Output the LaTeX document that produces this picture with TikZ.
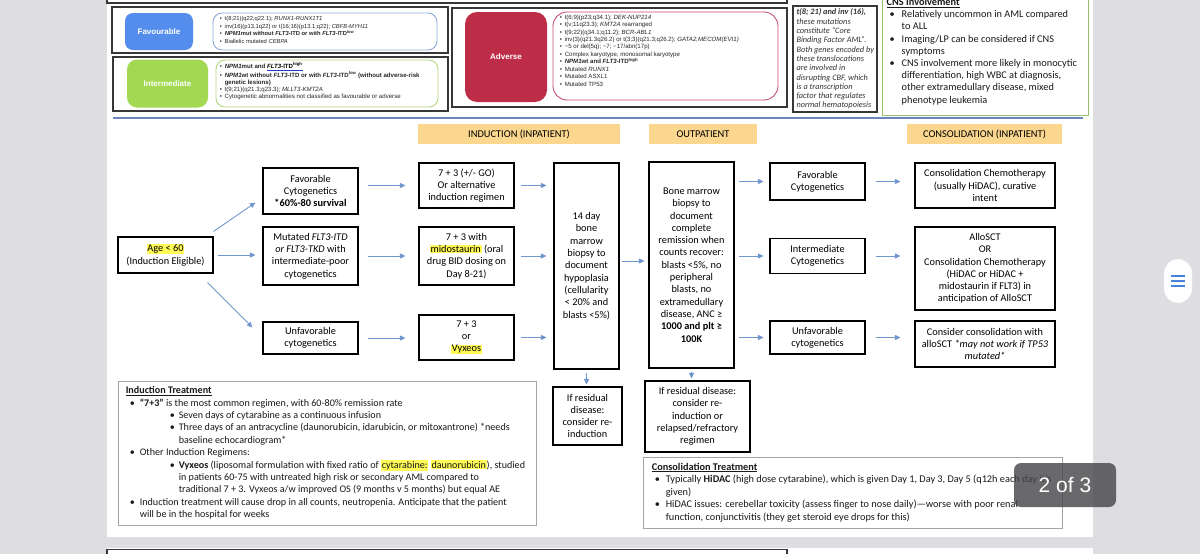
\documentclass[tikz,border=0pt]{standalone}
\usepackage{fontspec}
\setmainfont{Carlito}
\newfontfamily\arialfont{Liberation Sans}
\usetikzlibrary{arrows.meta,positioning}

\definecolor{pagegray}{RGB}{221,221,226}
\definecolor{favblue}{RGB}{84,141,235}
\definecolor{intgreen}{RGB}{163,217,82}
\definecolor{advred}{RGB}{190,45,72}
\definecolor{favedge}{RGB}{140,170,220}
\definecolor{intedge}{RGB}{180,215,125}
\definecolor{advedge}{RGB}{196,80,110}
\definecolor{hdrorange}{RGB}{250,214,142}
\definecolor{arrowblue}{RGB}{112,150,205}
\definecolor{hlyellow}{RGB}{255,250,85}
\definecolor{cnsgreen}{RGB}{150,195,105}
\definecolor{ruleblue}{RGB}{105,135,190}
\definecolor{infogray}{RGB}{165,165,165}
\definecolor{outerline}{RGB}{55,55,55}
\definecolor{linkblue}{RGB}{30,60,200}
\definecolor{badgegray}{RGB}{72,72,76}
\definecolor{menublue}{RGB}{70,130,220}

\newcommand{\hlt}[1]{{\setlength{\fboxsep}{0.8pt}\colorbox{hlyellow}{#1}}}
\newcommand{\riskbul}{\makebox[5pt][l]{\textbullet}}
\newcommand{\bluline}[1]{{\color{linkblue}\underline{\color{black}#1}}}
\newcommand{\bulone}{\hspace*{4pt}\makebox[10pt][l]{\textbullet}}
\newcommand{\bultwo}{\hspace*{44pt}\makebox[9pt][l]{\textbullet}}
\newcommand{\bulcons}{\hspace*{3pt}\makebox[11pt][l]{\textbullet}}
\newcommand{\cnsbul}{\hspace*{3pt}\makebox[12pt][l]{\textbullet}}

\begin{document}
\begin{tikzpicture}[x=1pt, y=-1pt,
  flowbox/.style={rectangle, draw=black, line width=1.1pt, inner sep=2pt,
                  align=center, font=\fontsize{10.3}{12.3}\selectfont},
  hdrbox/.style={rectangle, fill=hdrorange, minimum height=20pt, inner sep=0pt,
                 font=\fontsize{10.4}{11}\selectfont},
  farr/.style={-{Triangle[length=5.5pt,width=5pt]}, line width=0.9pt, draw=arrowblue},
  outerbox/.style={rectangle, draw=outerline, line width=1.6pt, inner sep=0pt},
  risklab/.style={rectangle, rounded corners=8pt, inner sep=0pt, text=white,
                  font=\arialfont\bfseries\fontsize{8}{9}\selectfont},
  risktxt/.style={rectangle, rounded corners=9pt, fill=white, line width=0.9pt, inner sep=0pt},
  risklist/.style={inner sep=0pt, align=left, text=black!85,
                   font=\arialfont\fontsize{5.8}{7.35}\selectfont},
  infobox/.style={rectangle, draw=infogray, line width=0.8pt, inner sep=0pt},
  infotext/.style={inner sep=0pt, align=left, text=black!90}
]
\useasboundingbox (0,0) rectangle (1200,554);
\clip (0,0) rectangle (1200,554);

% Screen and pages
\fill[pagegray] (0,0) rectangle (1200,554);
\fill[white] (107,-5) rectangle (1093,537);
\fill[white] (107,548) rectangle (1093,560);
\draw[outerline, line width=1.6pt] (107,-10) rectangle (787,3);
\draw[outerline, line width=1.1pt] (107,549.5) rectangle (787,570);

% Risk groups
\node[outerbox, minimum width=336pt, minimum height=46pt] (favout) at (280,30) {};
\node[risklab, fill=favblue, minimum width=68pt, minimum height=37pt] (favlab) at (159,31.5) {Favourable};
\node[risktxt, draw=favedge, minimum width=224pt, minimum height=37pt] (favtxt) at (325,31.5) {};
\node[risklist, anchor=north west] (favlist) at ([shift={(7,4)}]favtxt.north west)
  {\riskbul t(8;21)(q22;q22.1); \textit{RUNX1-RUNX1T1}\\
   \riskbul inv(16)(p13.1q22) or t(16;16)(p13.1;q22); \textit{CBFB-MYH11}\\
   \riskbul \textbf{\textit{NPM1}mut without \textit{FLT3}-ITD or with \textit{FLT3}-ITD\textsuperscript{low}}\\
   \riskbul Biallelic mutated \textit{CEBPA}};

\node[outerbox, minimum width=335pt, minimum height=54pt] (intout) at (280.5,84) {};
\node[risklab, rounded corners=10pt, fill=intgreen, minimum width=81pt, minimum height=48pt] (intlab) at (167.5,83.5) {Intermediate};
\node[risktxt, draw=intedge, minimum width=222pt, minimum height=47pt] (inttxt) at (327,83.5) {};
\node[risklist, anchor=north west, font=\arialfont\fontsize{6.1}{7.1}\selectfont] (intlist) at ([shift={(4,3)}]inttxt.north west)
  {\riskbul \textbf{\textit{NPM1}mut and \bluline{\textit{FLT3}-ITD\textsuperscript{high}}}\\
   \riskbul \textbf{\textit{NPM1}wt without \textit{FLT3}-ITD or with \textit{FLT3}-ITD\textsuperscript{low} (without adverse-risk}\\
   \hspace*{5pt}\textbf{genetic lesions)}\\
   \riskbul t(9;21)(q21.3;q23.3); \textit{MLLT3-KMT2A}\\
   \riskbul Cytogenetic abnormalities not classified as favourable or adverse};

\node[outerbox, minimum width=335pt, minimum height=99pt] (advout) at (619.5,57.5) {};
\node[risklab, rounded corners=12pt, fill=advred, minimum width=82pt, minimum height=90pt] (advlab) at (506,57) {Adverse};
\node[risktxt, rounded corners=14pt, draw=advedge, minimum width=225pt, minimum height=88pt] (advtxt) at (665.5,56) {};
\node[risklist, anchor=north west, font=\arialfont\fontsize{6.1}{7.45}\selectfont] (advlist) at ([shift={(7,3)}]advtxt.north west)
  {\riskbul t(6;9)(p23;q34.1); \textit{DEK-NUP214}\\
   \riskbul t(v;11q23.3); \textit{KMT2A} rearranged\\
   \riskbul t(9;22)(q34.1;q11.2); \textit{BCR-ABL1}\\
   \riskbul inv(3)(q21.3q26.2) or t(3;3)(q21.3;q26.2); \textit{GATA2,MECOM(EVI1)}\\
   \riskbul −5 or del(5q); −7; −17/abn(17p)\\
   \riskbul Complex karyotype, monosomal karyotype\\
   \riskbul \textbf{\textit{NPM1}wt and \textit{FLT3}-ITD\textsuperscript{high}}\\
   \riskbul Mutated \textit{RUNX1}\\
   \riskbul Mutated ASXL1\\
   \riskbul Mutated TP53};

% CBF note
\node[outerbox, line width=1.4pt, minimum width=84pt, minimum height=106pt] (cbfbox) at (835,59) {};
\node[infotext, anchor=west, text=black!80, font=\itshape\fontsize{8.3}{9.3}\selectfont] (cbftext) at ([xshift=4pt]cbfbox.west)
  {\textbf{t(8; 21) and inv (16),}\\
   these mutations\\
   constitute “Core\\
   Binding Factor AML”.\\
   Both genes encoded by\\
   these translocations\\
   are involved in\\
   disrupting CBF, which\\
   is a transcription\\
   factor that regulates\\
   normal hematopoiesis};

% CNS involvement
\node[infobox, draw=cnsgreen, line width=1pt, minimum width=206pt, minimum height=127pt] (cnsbox) at (985,51.5) {};
\node[infotext, anchor=west, font=\fontsize{10.3}{12.2}\selectfont] (cnstext) at ([xshift=5pt]cnsbox.west)
  {\textbf{\underline{CNS Involvement}}\\
   \cnsbul Relatively uncommon in AML compared\\
   \hspace*{15pt}to ALL\\
   \cnsbul Imaging/LP can be considered if CNS\\
   \hspace*{15pt}symptoms\\
   \cnsbul CNS involvement more likely in monocytic\\
   \hspace*{15pt}differentiation, high WBC at diagnosis,\\
   \hspace*{15pt}other extramedullary disease, mixed\\
   \hspace*{15pt}phenotype leukemia};

\draw[ruleblue, line width=2pt] (113,118) -- (1083,118);

% Phase headers
\node[hdrbox, minimum width=202pt] (hind)  at (519,134)   {INDUCTION (INPATIENT)};
\node[hdrbox, minimum width=108pt] (hout)  at (703,134)   {OUTPATIENT};
\node[hdrbox, minimum width=155pt] (hcons) at (984.5,134) {CONSOLIDATION (INPATIENT)};

% Flow boxes
\node[flowbox, minimum width=95pt, minimum height=36pt] (age) at (165.5,255) {\hlt{Age < 60}\\(Induction Eligible)};
\node[flowbox, minimum width=95pt, minimum height=46pt] (fav) at (310.5,191) {Favorable\\Cytogenetics\\\textbf{*60\%-80 survival}};
\node[flowbox, minimum width=95pt, minimum height=58pt] (mut) at (310.5,256) {Mutated \textit{FLT3-ITD}\\\textit{or FLT3-TKD} with\\intermediate-poor\\cytogenetics};
\node[flowbox, minimum width=95pt, minimum height=32pt] (unf) at (310.5,338) {Unfavorable\\cytogenetics};
\node[flowbox, minimum width=95pt, minimum height=45pt] (sgo) at (466.5,185.5) {7 + 3 (+/- GO)\\Or alternative\\induction regimen};
\node[flowbox, minimum width=95pt, minimum height=58pt] (smido) at (466.5,256) {7 + 3 with\\\hlt{midostaurin} (oral\\drug BID dosing on\\Day 8-21)};
\node[flowbox, minimum width=95pt, minimum height=45pt] (svyx) at (466.5,337.5) {7 + 3\\or\\\hlt{Vyxeos}};
\node[flowbox, minimum width=65pt, minimum height=206pt] (bm14) at (586.5,266)
  {14 day\\bone\\marrow\\biopsy to\\document\\hypoplasia\\(cellularity\\< 20\% and\\blasts <5\%)};
\node[flowbox, minimum width=85pt, minimum height=206pt] (bmcr) at (691.5,265)
  {Bone marrow\\biopsy to\\document\\complete\\remission when\\counts recover:\\blasts <5\%, no\\peripheral\\blasts, no\\extramedullary\\disease, ANC ≥\\\textbf{1000 and plt ≥}\\\textbf{100K}};
\node[flowbox, minimum width=95pt, minimum height=37pt] (rfav) at (817.5,181.5) {Favorable\\Cytogenetics};
\node[flowbox, minimum width=95pt, minimum height=35pt] (rint) at (817.5,256) {Intermediate\\Cytogenetics};
\node[flowbox, minimum width=95pt, minimum height=33pt] (runf) at (817.5,337.5) {Unfavorable\\cytogenetics};
\node[flowbox, minimum width=140pt, minimum height=45pt] (cchemo) at (985,185.5) {Consolidation Chemotherapy\\(usually HiDAC), curative\\intent};
\node[flowbox, minimum width=140pt, minimum height=83pt] (callo) at (985,268.5)
  {AlloSCT\\OR\\Consolidation Chemotherapy\\(HiDAC or HiDAC +\\midostaurin if FLT3) in\\anticipation of AlloSCT};
\node[flowbox, minimum width=140pt, minimum height=46pt] (ccons) at (985,344) {Consider consolidation with\\alloSCT \textit{*may not work if TP53}\\\textit{mutated*}};
\node[flowbox, minimum width=69pt, minimum height=58pt] (res14) at (587.5,416) {If residual\\disease:\\consider re-\\induction};
\node[flowbox, minimum width=105pt, minimum height=71pt] (resbm) at (697.5,416.5) {If residual disease:\\consider re-\\induction or\\relapsed/refractory\\regimen};

% Arrows
\draw[farr] ([shift={(0,-5)}]age.north east) -- ([shift={(-7,-12)}]fav.south west);
\draw[farr, shorten <=4pt, shorten >=7pt] (age.east) -- (age.east -| mut.west);
\draw[farr] ([shift={(-6,9)}]age.south east) -- ([shift={(-10,6)}]unf.north west);
\draw[farr, shorten <=9pt, shorten >=13pt] (sgo.west -| fav.east) -- (sgo.west);
\draw[farr, shorten <=9pt, shorten >=13pt] (mut.east) -- (mut.east -| smido.west);
\draw[farr, shorten <=9pt, shorten >=13pt] (unf.east) -- (unf.east -| svyx.west);
\draw[farr, shorten <=6pt, shorten >=7pt] (sgo.east) -- (sgo.east -| bm14.west);
\draw[farr, shorten <=6pt, shorten >=7pt] (smido.east) -- (smido.east -| bm14.west);
\draw[farr, shorten <=6pt, shorten >=7pt] (svyx.east) -- (svyx.east -| bm14.west);
\draw[farr, shorten <=2pt, shorten >=4pt] ([yshift=5pt]bm14.east) -- ([yshift=5pt]bm14.east -| bmcr.west);
\draw[farr, shorten <=4pt, shorten >=6pt] (rfav.west -| bmcr.east) -- (rfav.west);
\draw[farr, shorten <=4pt, shorten >=6pt] (rint.west -| bmcr.east) -- (rint.west);
\draw[farr, shorten <=4pt, shorten >=6pt] (runf.west -| bmcr.east) -- (runf.west);
\draw[farr, shorten <=10pt, shorten >=14pt] (rfav.east) -- (rfav.east -| cchemo.west);
\draw[farr, shorten <=10pt, shorten >=14pt] (rint.east) -- (rint.east -| callo.west);
\draw[farr, shorten <=10pt, shorten >=14pt] (runf.east) -- (runf.east -| ccons.west);
\draw[farr, shorten <=3pt, shorten >=2pt] (bm14.south) -- (bm14.south |- res14.north);
\draw[farr, shorten <=3pt, shorten >=2pt] (bmcr.south) -- (bmcr.south |- resbm.north);

% Treatment notes
\node[infobox, minimum width=418pt, minimum height=144pt] (indbox) at (327,453) {};
\node[infotext, anchor=west, font=\fontsize{10.1}{12.4}\selectfont] (indtext) at ([xshift=8pt]indbox.west)
  {\textbf{\underline{Induction Treatment}}\\
   \bulone\textbf{“7+3”} is the most common regimen, with 60-80\% remission rate\\
   \bultwo Seven days of cytarabine as a continuous infusion\\
   \bultwo Three days of an antracycline (daunorubicin, idarubicin, or mitoxantrone) *needs\\
   \hspace*{53pt}baseline echocardiogram*\\
   \bulone Other Induction Regimens:\\
   \bultwo\textbf{Vyxeos} (liposomal formulation with fixed ratio of \hlt{cytarabine:} \hlt{daunorubicin}), studied\\
   \hspace*{53pt}in patients 60-75 with untreated high risk or secondary AML compared to\\
   \hspace*{53pt}traditional 7 + 3. Vyxeos a/w improved OS (9 months v 5 months) but equal AE\\
   \bulone Induction treatment will cause drop in all counts, neutropenia. Anticipate that the patient\\
   \hspace*{14pt}will be in the hospital for weeks};

\node[infobox, minimum width=419pt, minimum height=71pt] (consbox) at (852.5,492.5) {};
\node[infotext, anchor=west, font=\fontsize{10.3}{12.6}\selectfont] (constext) at ([xshift=9pt]consbox.west)
  {\textbf{\underline{Consolidation Treatment}}\\
   \bulcons Typically \textbf{HiDAC} (high dose cytarabine), which is given Day 1, Day 3, Day 5 (q12h each day it's\\
   \hspace*{14pt}given)\\
   \bulcons HiDAC issues: cerebellar toxicity (assess finger to nose daily)—worse with poor renal\\
   \hspace*{14pt}function, conjunctivitis (they get steroid eye drops for this)};

% Viewer overlay
\node[rectangle, rounded corners=7pt, fill=badgegray, fill opacity=0.82, text opacity=1, text=white,
      minimum width=102pt, minimum height=44pt, font=\arialfont\fontsize{21}{24}\selectfont] (badge) at (1065,485) {2 of 3};
\node[rectangle, rounded corners=14pt, fill=white, draw=black!8, minimum width=28pt, minimum height=44pt] (menu) at (1178,281) {};
\foreach \dy in {-5,0,5}
  \draw[menublue, line width=1.8pt] ([shift={(-7,\dy)}]menu.center) -- ([shift={(7,\dy)}]menu.center);
\end{tikzpicture}
\end{document}
